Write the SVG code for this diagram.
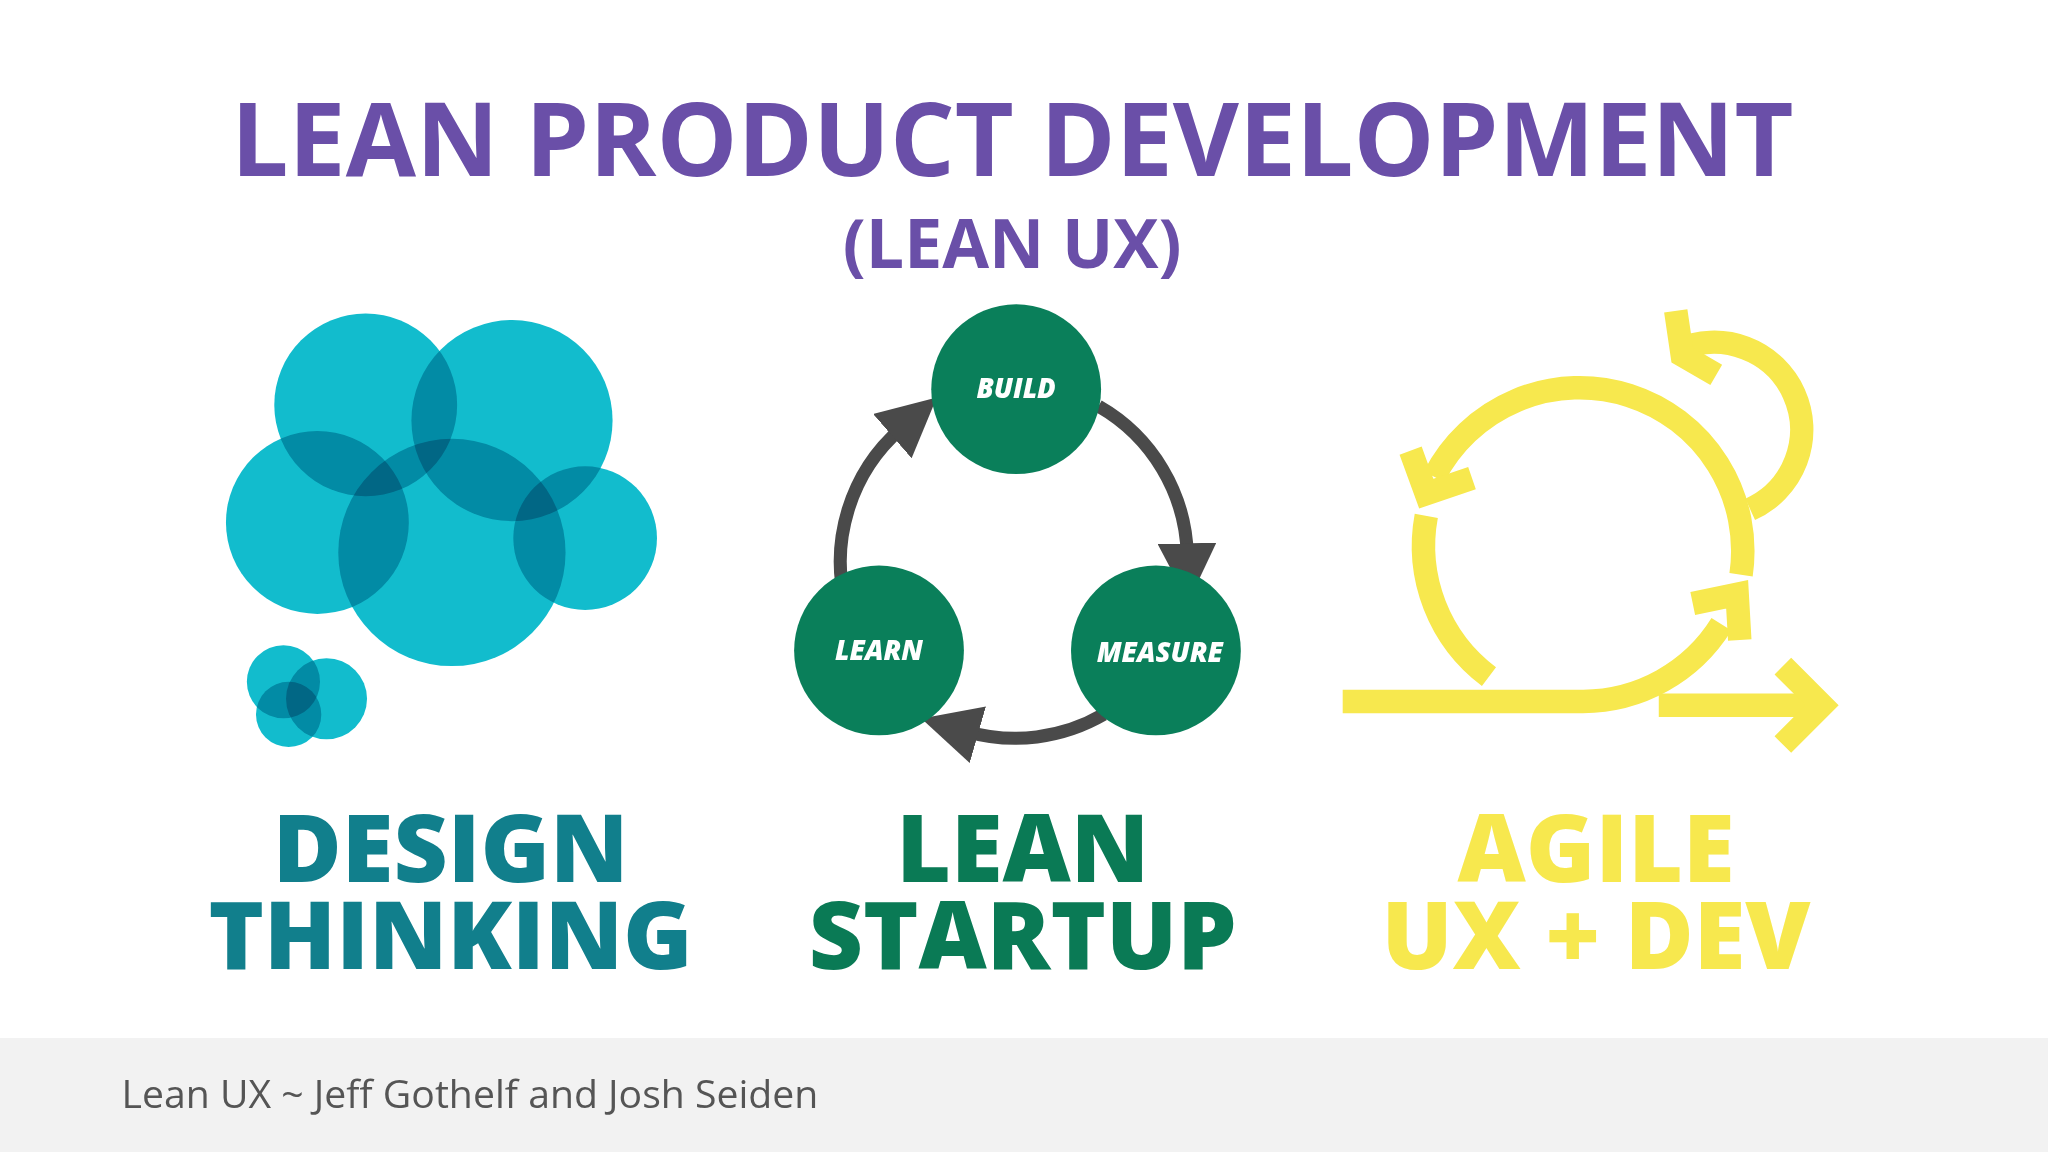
<svg xmlns="http://www.w3.org/2000/svg" width="2048" height="1152" viewBox="0 0 2048 1152">
<defs>
<style>
.t{font-family:"Open Sans","Liberation Sans",sans-serif;font-weight:700;text-anchor:middle}
.lbl{font-family:"Open Sans","Liberation Sans",sans-serif;font-weight:800;text-anchor:middle;font-size:72px}
.cy{fill:#12bccd;mix-blend-mode:multiply}
.gn{fill:#0a7f5a}
.ct{font-family:"Open Sans","Liberation Sans",sans-serif;font-weight:800;font-style:italic;fill:#fff;font-size:21px;text-anchor:middle}
.arc{fill:none;stroke:#4a4a4a;stroke-width:10}
.y{fill:none;stroke:#f7e84e;stroke-width:18}
</style>
<marker id="ah" viewBox="0 0 10 10" refX="2" refY="5" markerWidth="4.5" markerHeight="4.5" orient="auto" markerUnits="strokeWidth"><path d="M0,0 L10,5 L0,10 Z" fill="#4a4a4a"/></marker>
</defs>
<rect width="2048" height="1152" fill="#fff"/>
<rect y="1038" width="2048" height="114" fill="#f2f2f2"/>
<g transform="scale(1.30612)">
<text class="t" x="775" y="135" font-size="78" fill="#6a4fa8">LEAN PRODUCT DEVELOPMENT</text>
<text class="t" x="775" y="205" font-size="52" fill="#6a4fa8">(LEAN UX)</text>
<g id="design">
<circle class="cy" cx="280" cy="310" r="70"/>
<circle class="cy" cx="392" cy="322" r="77"/>
<circle class="cy" cx="243" cy="400" r="70"/>
<circle class="cy" cx="346" cy="423" r="87"/>
<circle class="cy" cx="448" cy="412" r="55"/>
<circle class="cy" cx="217" cy="522" r="28"/>
<circle class="cy" cx="250" cy="535" r="31"/>
<circle class="cy" cx="221" cy="547" r="25"/>
<text class="lbl" x="345" y="675" fill="#117f8c">DESIGN</text>
<text class="lbl" x="345" y="742" fill="#117f8c">THINKING</text>
</g>
<g id="connectors">
<path class="arc" d="M841,311 A135,135 0 0 1 909,425" marker-end="url(#ah)"/>
<path class="arc" d="M845,547 A135,135 0 0 1 740,560" marker-end="url(#ah)"/>
<path class="arc" d="M648,465 A135,135 0 0 1 690,328" marker-end="url(#ah)"/>
</g>
<g id="build"><circle class="gn" cx="778" cy="298" r="65"/><text class="ct" x="778" y="305">BUILD</text></g>
<g id="learn"><circle class="gn" cx="673" cy="498" r="65"/><text class="ct" x="673" y="505">LEARN</text></g>
<g id="measure"><circle class="gn" cx="885" cy="498" r="65"/><text class="ct" x="888" y="507">MEASURE</text></g>
<g id="leanstartup">
<text class="lbl" x="783" y="675" fill="#0a7a55">LEAN</text>
<text class="lbl" x="783" y="742" fill="#0a7a55">STARTUP</text>
</g>
<g id="agile">
<path class="y" d="M1028,537 H1212 A125,125 0 0 0 1318,478"/>
<path class="y" d="M1333,440 A125,125 0 0 0 1098,365"/>
<path class="y" d="M1092,395 A125,125 0 0 0 1140,518"/>
<path class="y" d="M1296,462 L1330,455 L1332,490"/>
<path class="y" d="M1080,345 L1092,378 L1127,366"/>
<path class="y" d="M1270,540 H1395"/>
<path class="y" d="M1365,510 L1395,540 L1365,570"/>
<path class="y" d="M1340,390 A55,55 0 1 0 1285,268"/>
<path class="y" d="M1283,238 L1288,272 L1314,287"/>
<text class="lbl" x="1222" y="675" fill="#f7e84e">AGILE</text>
<text class="lbl" x="1222" y="742" fill="#f7e84e">UX + DEV</text>
</g>
<text x="93" y="848" font-family="'Open Sans','Liberation Sans',sans-serif" font-size="30" fill="#555">Lean UX ~ Jeff Gothelf and Josh Seiden</text>
</g>
</svg>
